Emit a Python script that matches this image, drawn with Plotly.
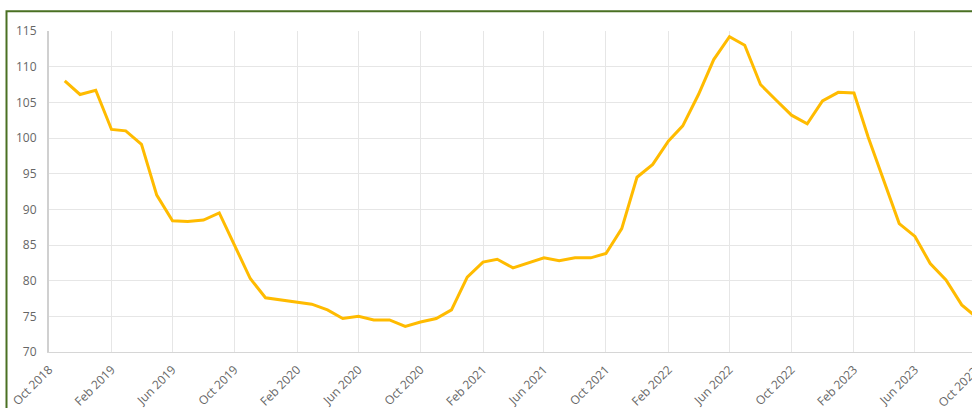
import pandas as pd
import plotly.graph_objects as go

# ---- data ----
months = pd.date_range("2018-11-01", "2023-10-01", freq="MS")
values = [
    108.0, 106.1, 106.7, 101.2, 101.0, 99.1, 92.0, 88.4, 88.3, 88.5, 89.5, 85.0,
    80.3, 77.6, 77.3, 77.0, 76.7, 75.9, 74.7, 75.0, 74.5, 74.5, 73.6, 74.2,
    74.7, 75.9, 80.5, 82.6, 83.0, 81.8, 82.5, 83.2, 82.8, 83.2, 83.2, 83.8,
    87.3, 94.5, 96.3, 99.6, 101.7, 106.1, 111.0, 114.2, 113.0, 107.5, 105.3, 103.2,
    102.0, 105.2, 106.4, 106.3, 100.1, 94.0, 88.0, 86.2, 82.4, 80.1, 76.6, 74.8,
]
y_ticks = [70, 75, 80, 85, 90, 95, 100, 105, 110, 115]
x_tick_dates = pd.date_range("2018-10-01", "2023-06-01", freq="4MS")
x_tick_labels = [d.strftime("%b %Y") for d in x_tick_dates]
cut_label = "Oct 2023"

# ---- layout geometry ----
W, H = 972, 408
ml, mr, mt, mb = 49, 0, 31, 56
plot_w = W - ml - mr
plot_h = H - mt - mb
px_per_day = 0.5082
x_start = pd.Timestamp("2018-10-01")
x_end = x_start + pd.Timedelta(days=plot_w / px_per_day)

font_family = "Open Sans, Noto Sans, sans-serif"
tick_color = "#666666"
fs = 12

fig = go.Figure()
fig.add_trace(go.Scatter(
    x=months, y=values, mode="lines",
    line=dict(color="#FFBB00", width=3),
    hoverinfo="x+y", showlegend=False,
))

cut_x = ((pd.Timestamp("2023-10-01") - x_start).days * px_per_day + 8) / plot_w

fig.update_layout(
    width=W, height=H,
    margin=dict(l=ml, r=mr, t=mt, b=mb, pad=0),
    paper_bgcolor="white", plot_bgcolor="white",
    font=dict(family=font_family, size=fs, color=tick_color),
    xaxis=dict(
        range=[x_start, x_end],
        tickvals=list(x_tick_dates), ticktext=x_tick_labels,
        tickangle=-45, showgrid=True, gridcolor="#e6e6e6", gridwidth=1,
        showline=True, linecolor="#d6d6d6", linewidth=1,
        ticks="outside", ticklen=5, tickcolor="rgba(0,0,0,0)",
        zeroline=False, fixedrange=True,
        tickfont=dict(size=fs, color=tick_color),
    ),
    yaxis=dict(
        range=[70, 115], tickvals=y_ticks,
        showgrid=True, gridcolor="#e6e6e6", gridwidth=1,
        showline=True, linecolor="#d0d0d0", linewidth=2,
        ticks="outside", ticklen=8, tickcolor="rgba(0,0,0,0)",
        zeroline=False, fixedrange=True,
        tickfont=dict(size=fs, color=tick_color),
    ),
    shapes=[dict(
        type="rect", xref="paper", yref="paper",
        x0=(6.5 - ml) / plot_w, x1=1.2,
        y0=-0.4, y1=(H - mb - 11.3) / plot_h,
        line=dict(color="#4A7023", width=2), fillcolor="rgba(0,0,0,0)",
        layer="above",
    )],
    annotations=[dict(
        text=cut_label, xref="paper", yref="paper",
        x=cut_x, y=-0.025, xanchor="right", yanchor="top",
        textangle=-45, showarrow=False,
        font=dict(size=fs, color=tick_color, family=font_family),
    )],
)

fig.write_html(
    "out.html",
    config={"displayModeBar": False},
    post_script="document.body.style.margin='0';"
                "document.documentElement.style.overflow='hidden';"
                "document.body.style.overflow='hidden';",
)
